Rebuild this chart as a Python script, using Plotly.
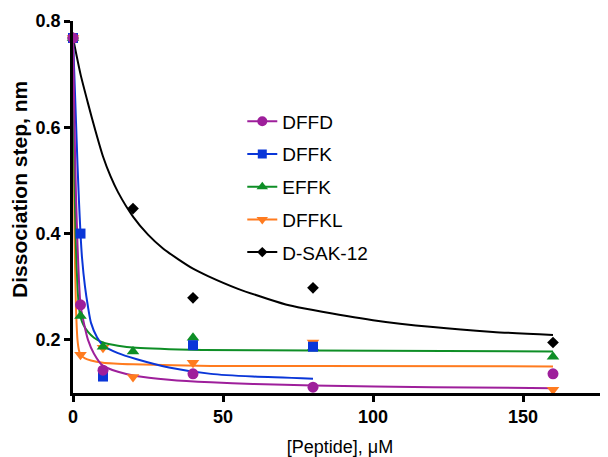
import plotly.graph_objects as go

# ---- data ----
series_names = ["DFFD", "DFFK", "EFFK", "DFFKL", "D-SAK-12"]

dffd_x = [0, 2.5, 10, 40, 80, 160]
dffd_y = [0.768, 0.266, 0.143, 0.136, 0.111, 0.136]
dffk_x = [0, 2.5, 10, 40, 80]
dffk_y = [0.768, 0.40, 0.131, 0.19, 0.187]
effk_x = [0, 2.5, 10, 20, 40, 80, 160]
effk_y = [0.768, 0.245, 0.187, 0.178, 0.204, 0.185, 0.168]
dffkl_x = [0, 2.5, 10, 20, 40, 80, 160]
dffkl_y = [0.768, 0.172, 0.185, 0.13, 0.157, 0.195, 0.106]
dsak_x = [0, 20, 40, 80, 160]
dsak_y = [0.768, 0.447, 0.279, 0.298, 0.195]

# fitted curves
dffd_fit_x = [0, 0.5, 1, 1.5, 2, 2.5, 3.5, 5, 7, 10, 15, 21, 32, 46, 60, 80, 120, 160]
dffd_fit_y = [0.768, 0.60, 0.47, 0.38, 0.31, 0.266, 0.235, 0.20, 0.174, 0.151, 0.14, 0.132, 0.125, 0.12, 0.117, 0.114, 0.111, 0.109]
dffk_fit_x = [0, 0.5, 1, 1.5, 2, 2.5, 3, 4, 5, 6, 8, 10, 15, 21, 32, 46, 60, 80]
dffk_fit_y = [0.768, 0.69, 0.61, 0.53, 0.46, 0.40, 0.355, 0.30, 0.262, 0.232, 0.205, 0.19, 0.175, 0.164, 0.148, 0.136, 0.131, 0.127]
effk_fit_x = [0, 0.5, 1, 1.5, 2, 2.5, 3.5, 5, 7, 10, 15, 21, 43, 80, 160]
effk_fit_y = [0.768, 0.50, 0.37, 0.30, 0.26, 0.243, 0.228, 0.215, 0.204, 0.195, 0.189, 0.185, 0.181, 0.180, 0.178]
dffkl_fit_x = [0, 0.5, 1, 1.5, 2, 2.5, 4, 6, 10, 20, 46, 80, 160]
dffkl_fit_y = [0.768, 0.40, 0.26, 0.20, 0.18, 0.172, 0.165, 0.161, 0.157, 0.154, 0.151, 0.151, 0.150]
dsak_fit_x = [0, 2.5, 5, 7.5, 10, 12.5, 15, 20, 25, 30, 35, 40, 45, 55, 65, 72, 80, 100, 120, 140, 160]
dsak_fit_y = [0.768, 0.70, 0.645, 0.593, 0.545, 0.508, 0.478, 0.432, 0.398, 0.372, 0.352, 0.334, 0.32, 0.296, 0.277, 0.265, 0.256, 0.237, 0.224, 0.215, 0.209]

x_ticks = [0, 50, 100, 150]
y_ticks = [0.2, 0.4, 0.6, 0.8]

colors = ["#9E1F9B", "#0A36D8", "#0E8E26", "#FF7B1F", "#000000"]
symbols = ["circle", "square", "triangle-up", "triangle-down", "diamond"]
sizes = [11, 10, 11, 11, 9]

pts = [(dffd_x, dffd_y), (dffk_x, dffk_y), (effk_x, effk_y), (dffkl_x, dffkl_y), (dsak_x, dsak_y)]
fits = [(dffd_fit_x, dffd_fit_y), (dffk_fit_x, dffk_fit_y), (effk_fit_x, effk_fit_y),
        (dffkl_fit_x, dffkl_fit_y), (dsak_fit_x, dsak_fit_y)]

FONT = "Arial, 'Liberation Sans', Helvetica, sans-serif"

fig = go.Figure()

# draw order: last data set first (bottom) so DFFD ends on top
for i in reversed(range(5)):
    fx, fy = fits[i]
    fig.add_trace(go.Scatter(x=fx, y=fy, mode="lines", line=dict(color=colors[i], width=2, shape="spline", smoothing=0.6),
                             showlegend=False, hoverinfo="skip", cliponaxis=False))
for i in reversed(range(5)):
    px, py = pts[i]
    fig.add_trace(go.Scatter(x=px, y=py, mode="markers", name=series_names[i],
                             marker=dict(color=colors[i], symbol=symbols[i], size=sizes[i], line=dict(width=0)),
                             showlegend=False, cliponaxis=False))
# legend entries (line + marker)
for i in range(5):
    fig.add_trace(go.Scatter(x=[None], y=[None], mode="lines+markers", name=series_names[i],
                             line=dict(color=colors[i], width=2),
                             marker=dict(color=colors[i], symbol=symbols[i], size=sizes[i] - 1),
                             legendgroup=series_names[i], legendrank=i + 1))

fig.update_layout(
    width=600, height=449,
    margin=dict(l=65, r=1, t=13, b=64),
    paper_bgcolor="white", plot_bgcolor="white",
    font=dict(family=FONT, color="black"),
    showlegend=True,
    legend=dict(x=0.317, y=0.781, xanchor="left", yanchor="top", font=dict(size=19, family=FONT),
                bgcolor="rgba(0,0,0,0)", tracegroupgap=5, itemwidth=30),
    xaxis=dict(range=[0, 178], tickmode="array", tickvals=x_ticks, ticktext=[f"<b>{v}</b>" for v in x_ticks],
               showgrid=False, zeroline=False, showline=True, linecolor="black", linewidth=2.5,
               ticks="outside", ticklen=6, tickwidth=2.5, tickcolor="black",
               tickfont=dict(size=18, family=FONT), automargin=False,
               title=dict(text="[Peptide], μM", font=dict(size=18, family=FONT), standoff=19)),
    yaxis=dict(range=[0.1, 0.8], tickmode="array", tickvals=y_ticks, ticktext=[f"<b>{v}</b>" for v in y_ticks],
               showgrid=False, zeroline=False, showline=True, linecolor="black", linewidth=2.5,
               ticks="outside", ticklen=6, tickwidth=2.5, tickcolor="black",
               tickfont=dict(size=18, family=FONT), automargin=False),
    annotations=[dict(text="<b>Dissociation step, nm</b>", textangle=-90, xref="paper", yref="paper",
                      x=0, y=0.546, xanchor="center", yanchor="middle", xshift=-53, showarrow=False,
                      font=dict(size=21, family=FONT, color="black"))],
)

fig.write_html("out.html")
